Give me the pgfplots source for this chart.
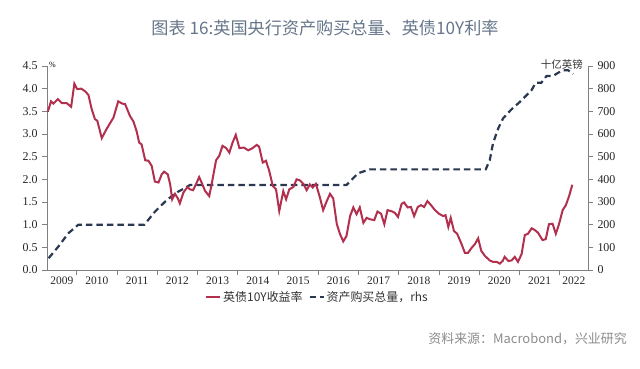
\documentclass[border=0pt]{standalone}
\usepackage{fontspec}
\setmainfont{Liberation Serif}
\newfontfamily\cjk{Noto Sans CJK SC}
\usepackage{pgfplots}
\pgfplotsset{compat=1.18}
\definecolor{redline}{HTML}{B2304E}
\definecolor{navy}{HTML}{2A3852}
\definecolor{axisgray}{HTML}{808080}
\definecolor{titlegray}{HTML}{66768A}
\definecolor{srcgray}{HTML}{8C8C8C}
\begin{document}
\begin{tikzpicture}
\useasboundingbox[fill=white] (0,0) rectangle (640bp,369bp);
\pgfplotsset{
  base/.style={
    width=541bp, height=204bp, scale only axis,
    at={(47bp,99bp)}, anchor=south west,
    xmin=2009.26, xmax=2022.70,
    axis line style={-, axisgray, line width=0.8bp},
    tick style={axisgray, line width=0.8bp},
    major tick length=5bp, tick align=outside,
    tick label style={text=black!85},
    yticklabel style={font=\fontsize{12}{13}\selectfont},
    xticklabel style={font=\fontsize{11.5}{13}\selectfont},
    /pgf/number format/assume math mode=true,
  }
}
% asset purchases (right axis)
\begin{axis}[base,
  axis x line=none, axis y line*=right,
  ymin=0, ymax=900, ytick={0,100,...,900},
  yticklabel style={xshift=1bp},
]
\addplot[navy, line width=2.2bp, dash pattern=on 6.5bp off 4bp] coordinates {
(2009.30,52) (2009.54,103) (2009.79,162) (2010.04,200) (2011.68,200)
(2011.94,257) (2012.19,301) (2012.44,338) (2012.69,362) (2012.81,375)
(2016.70,375) (2016.99,427) (2017.28,444) (2020.16,444) (2020.26,485)
(2020.34,559) (2020.47,625) (2020.59,669) (2020.80,709) (2021.01,742)
(2021.30,794) (2021.40,826) (2021.54,826) (2021.67,856) (2021.83,856)
(2022.05,880) (2022.20,882) (2022.33,865)
};
\end{axis}
% gilt yield (left axis)
\begin{axis}[base,
  axis x line*=bottom, axis y line*=left,
  ymin=0, ymax=4.5, ytick={0,0.5,...,4.5},
  yticklabel style={xshift=-1bp, /pgf/number format/.cd, fixed, fixed zerofill, precision=1},
  xtick={2010,...,2022}, xticklabels={},
  extra x ticks={2009.63,2010.5,2011.5,2012.5,2013.5,2014.5,2015.5,2016.5,2017.5,2018.5,2019.5,2020.5,2021.5,2022.35},
  extra x tick labels={2009,2010,2011,2012,2013,2014,2015,2016,2017,2018,2019,2020,2021,2022},
  extra x tick style={major tick length=0pt, tick label style={yshift=-3bp}},
  legend columns=2,
  legend image code/.code={\draw[#1] (0bp,0bp) -- (14bp,0bp);},
  legend style={draw=none, fill=none, at={(axis description cs:0.50,-0.085)}, anchor=north,
    font=\cjk\fontsize{12}{13}\selectfont, text=black!80,
    /tikz/every even column/.append style={column sep=4bp}},
]
\addplot[redline, line width=2bp] coordinates {
(2009.28,3.49) (2009.36,3.72) (2009.42,3.67) (2009.53,3.77) (2009.63,3.68)
(2009.75,3.68) (2009.86,3.60) (2009.94,4.11) (2010.01,3.99) (2010.11,4.00)
(2010.21,3.94) (2010.29,3.86) (2010.37,3.55) (2010.45,3.33) (2010.51,3.29)
(2010.62,2.91) (2010.74,3.11) (2010.91,3.36) (2011.03,3.72) (2011.13,3.67)
(2011.20,3.66) (2011.32,3.40) (2011.41,3.27) (2011.49,3.05) (2011.55,2.81)
(2011.61,2.77) (2011.70,2.42) (2011.78,2.41) (2011.86,2.30) (2011.94,1.95)
(2012.03,1.93) (2012.11,2.11) (2012.17,2.17) (2012.26,2.11) (2012.32,1.89)
(2012.37,1.56) (2012.44,1.68) (2012.51,1.58) (2012.56,1.47) (2012.65,1.71)
(2012.75,1.83) (2012.81,1.78) (2012.89,1.76) (2012.98,1.93) (2013.04,2.05)
(2013.10,1.93) (2013.19,1.74) (2013.29,1.63) (2013.35,1.89) (2013.46,2.42)
(2013.54,2.52) (2013.62,2.74) (2013.71,2.69) (2013.79,2.59) (2013.87,2.81)
(2013.95,2.98) (2014.04,2.69) (2014.15,2.70) (2014.26,2.64) (2014.37,2.69)
(2014.47,2.76) (2014.53,2.72) (2014.62,2.37) (2014.70,2.41) (2014.78,2.19)
(2014.87,1.85) (2014.95,1.78) (2015.03,1.30) (2015.13,1.74) (2015.20,1.56)
(2015.28,1.78) (2015.38,1.83) (2015.46,2.00) (2015.54,1.98) (2015.63,1.90)
(2015.71,1.76) (2015.79,1.89) (2015.86,1.82) (2015.94,1.90) (2016.04,1.60)
(2016.12,1.32) (2016.21,1.52) (2016.29,1.68) (2016.37,1.58) (2016.46,1.01)
(2016.54,0.79) (2016.62,0.63) (2016.70,0.75) (2016.79,1.19) (2016.87,1.38)
(2016.95,1.23) (2017.03,1.38) (2017.12,1.04) (2017.20,1.15) (2017.28,1.12)
(2017.39,1.10) (2017.47,1.29) (2017.56,1.24) (2017.64,1.01) (2017.72,1.32)
(2017.84,1.29) (2017.90,1.26) (2017.98,1.17) (2018.07,1.46) (2018.13,1.49)
(2018.22,1.38) (2018.30,1.39) (2018.38,1.19) (2018.47,1.39) (2018.55,1.43)
(2018.63,1.39) (2018.71,1.52) (2018.80,1.43) (2018.90,1.32) (2019.00,1.24)
(2019.10,1.19) (2019.16,1.21) (2019.23,0.95) (2019.29,1.15) (2019.37,0.86)
(2019.45,0.80) (2019.56,0.57) (2019.64,0.38) (2019.72,0.38) (2019.81,0.49)
(2019.89,0.57) (2019.97,0.70) (2020.05,0.42) (2020.14,0.31) (2020.26,0.21)
(2020.34,0.18) (2020.43,0.18) (2020.51,0.14) (2020.58,0.20) (2020.63,0.29)
(2020.72,0.20) (2020.80,0.21) (2020.88,0.29) (2020.96,0.18) (2021.05,0.35)
(2021.13,0.77) (2021.21,0.80) (2021.30,0.92) (2021.38,0.88) (2021.46,0.82)
(2021.57,0.66) (2021.65,0.68) (2021.73,1.01) (2021.82,1.02) (2021.90,0.80)
(2021.98,1.01) (2022.07,1.32) (2022.15,1.43) (2022.23,1.63) (2022.31,1.88)
};
\addlegendentry{英债10Y收益率}
\addlegendimage{navy, line width=2bp, dash pattern=on 6bp off 4bp}
\addlegendentry{资产购买总量，rhs}
\end{axis}
\node[anchor=west, font=\fontsize{8}{9}\selectfont, inner sep=0pt] at (49bp,304bp) {\%};
\node[anchor=east, font=\cjk\fontsize{10.5}{12}\selectfont, text=black!80, inner sep=0pt] at (583bp,304bp) {十亿英镑};
\node[font=\cjk\fontsize{17.2}{19}\selectfont, text=titlegray, inner sep=0pt] at (325bp,341bp) {图表 16:英国央行资产购买总量、英债10Y利率};
\node[anchor=east, font=\cjk\fontsize{13}{15}\selectfont, text=srcgray, inner sep=0pt] at (627bp,30bp) {资料来源：Macrobond，兴业研究};
\end{tikzpicture}
\end{document}
